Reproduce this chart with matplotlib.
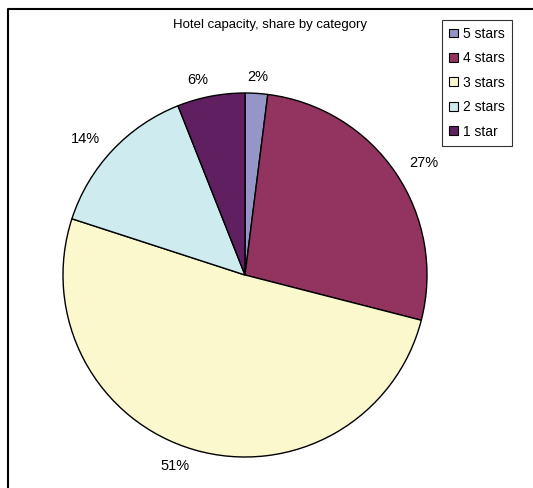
import matplotlib
matplotlib.use("Agg")
import matplotlib.pyplot as plt
from matplotlib.lines import Line2D

plt.rcParams['font.family'] = ['Liberation Sans', 'DejaVu Sans']

# Share of hotel capacity by category, in percent
categories = ['5 stars', '4 stars', '3 stars', '2 stars', '1 star']
shares = [2, 27, 51, 14, 6]
colors = ['#9595C8', '#93335F', '#FBF8CD', '#CEEBEF', '#5F1F60']

W, H = 533, 488
fig = plt.figure(figsize=(W / 100, H / 100), dpi=100)

# Pie centred at (245, 275) px with a 182 px radius
cx, cy, r = 245, 275, 182
ax = fig.add_axes([(cx - r) / W, (H - cy - r) / H, 2 * r / W, 2 * r / H])
wedges, _, pcts = ax.pie(
    shares, colors=colors, startangle=90, counterclock=False,
    autopct='%d%%', pctdistance=1.09, radius=1,
    wedgeprops=dict(edgecolor='black', linewidth=1.0),
    textprops=dict(fontsize=10.5, color='black'))

# Anchor the outside labels on their inner edge, like a spreadsheet chart
for t in pcts:
    x, _ = t.get_position()
    if x > 0.1:
        t.set_ha('left')
    elif x < -0.1:
        t.set_ha('right')

ax.set_xlim(-1, 1)
ax.set_ylim(-1, 1)
ax.set_aspect('equal')
ax.axis('off')

fig.text(270 / W, 1 - 25 / H, 'Hotel capacity, share by category',
         ha='center', va='center', fontsize=9.5)

leg = fig.legend(wedges, categories, loc='upper right',
                 bbox_to_anchor=(512 / W, 1 - 20 / H),
                 fontsize=10, frameon=True, fancybox=False,
                 handlelength=0.6, handleheight=0.6, handletextpad=0.4,
                 labelspacing=0.75, borderpad=0.5, borderaxespad=0)
leg.get_frame().set_edgecolor('black')
leg.get_frame().set_linewidth(0.8)
for h in leg.legend_handles:
    h.set_linewidth(0.8)

# Chart-area frame along the top and left edges
fig.add_artist(Line2D([8 / W, 8 / W, 1], [0, 1 - 9 / H, 1 - 9 / H],
                      transform=fig.transFigure, color='black', lw=1.5))

fig.savefig('out.png', dpi=100)
